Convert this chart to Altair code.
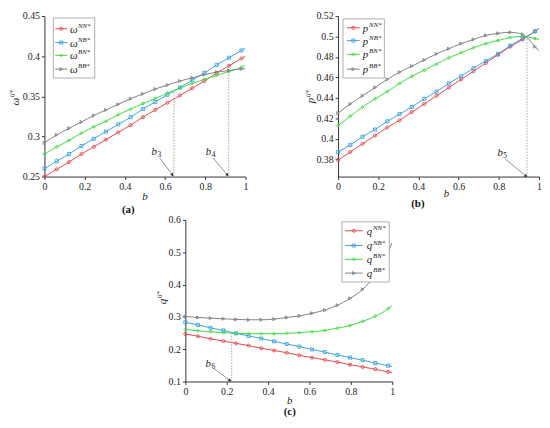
import math

import altair as alt
import pandas as pd

FONT = "Liberation Serif, Times New Roman, serif"
INK = "#333333"

SERIES = ["NN", "NB", "BN", "BB"]
SUPS = ["NN*", "NB*", "BN*", "BB*"]
COLORS = ["#e5484d", "#3ea2df", "#3ddc3d", "#808080"]
SHAPES = ["circle", "square", "diamond", "triangle-right"]

# b values of the markers; the last one (1.0) only closes the line
B = [0, 0.061, 0.122, 0.184, 0.245, 0.306, 0.367, 0.429, 0.49, 0.551,
     0.612, 0.674, 0.735, 0.796, 0.857, 0.918, 0.98, 1.0]

# (a) omega
W_NN = [0.25, 0.259, 0.268, 0.278, 0.287, 0.296, 0.305, 0.314, 0.324, 0.333,
        0.342, 0.351, 0.36, 0.369, 0.379, 0.388, 0.397, 0.40]
W_NB = [0.26, 0.269, 0.278, 0.288, 0.297, 0.306, 0.315, 0.324, 0.334, 0.343,
        0.352, 0.361, 0.370, 0.379, 0.389, 0.398, 0.407, 0.41]
W_BN = [0.278, 0.287, 0.295, 0.304, 0.312, 0.319, 0.327, 0.334, 0.341, 0.347,
        0.354, 0.36, 0.366, 0.371, 0.376, 0.381, 0.386, 0.389]
W_BB = [0.292, 0.302, 0.310, 0.318, 0.326, 0.333, 0.340, 0.347, 0.353, 0.359,
        0.364, 0.369, 0.373, 0.377, 0.380, 0.382, 0.384, 0.384]

# (b) p
P_NN = [0.379, 0.387, 0.395, 0.403, 0.411, 0.418, 0.426, 0.434, 0.442, 0.45,
        0.458, 0.466, 0.474, 0.482, 0.490, 0.497, 0.505, 0.508]
P_NB = [0.387, 0.394, 0.402, 0.409, 0.417, 0.424, 0.431, 0.439, 0.446, 0.454,
        0.461, 0.469, 0.476, 0.483, 0.491, 0.498, 0.505, 0.508]
P_BN = [0.413, 0.422, 0.431, 0.439, 0.446, 0.454, 0.461, 0.467, 0.473, 0.479,
        0.484, 0.489, 0.493, 0.496, 0.499, 0.500, 0.498, 0.497]
P_BB = [0.425, 0.434, 0.442, 0.450, 0.458, 0.465, 0.471, 0.477, 0.483, 0.488,
        0.493, 0.497, 0.501, 0.503, 0.504, 0.502, 0.490, 0.486]

# (c) q
Q_NN = [0.247, 0.24, 0.232, 0.225, 0.218, 0.211, 0.203, 0.196, 0.189, 0.181,
        0.174, 0.167, 0.16, 0.152, 0.145, 0.138, 0.13, 0.128]
Q_NB = [0.283, 0.275, 0.266, 0.258, 0.249, 0.241, 0.233, 0.224, 0.216, 0.208,
        0.199, 0.191, 0.182, 0.174, 0.166, 0.157, 0.149, 0.146]
Q_BN = [0.261, 0.257, 0.254, 0.251, 0.249, 0.248, 0.248, 0.248, 0.249, 0.251,
        0.254, 0.258, 0.265, 0.273, 0.286, 0.302, 0.325, 0.336]
Q_BB = [0.301, 0.298, 0.296, 0.294, 0.292, 0.291, 0.291, 0.293, 0.298, 0.303,
        0.311, 0.321, 0.336, 0.357, 0.385, 0.43, 0.50, 0.53]

X_TICKS = [0, 0.2, 0.4, 0.6, 0.8, 1]
Y_TICKS_A = [0.25, 0.3, 0.35, 0.4, 0.45]
Y_TICKS_B = [0.38, 0.4, 0.42, 0.44, 0.46, 0.48, 0.5, 0.52]
Y_TICKS_C = [0.1, 0.2, 0.3, 0.4, 0.5, 0.6]

# dotted threshold lines: b, from, to
GUIDES_A = [(0.644, 0.25, 0.357), (0.917, 0.25, 0.383)]
GUIDES_B = [(0.94, 0.363, 0.50)]
GUIDES_C = [(0.224, 0.10, 0.25)]

# threshold labels: index, label x, label y, arrow start x, y, arrow end x, y
NOTES_A = [("3", 0.56, 0.28, 0.574, 0.273, 0.637, 0.252),
           ("4", 0.83, 0.28, 0.84, 0.273, 0.91, 0.252)]
NOTES_B = [("5", 0.82, 0.386, 0.833, 0.38, 0.935, 0.3635)]
NOTES_C = [("6", 0.124, 0.154, 0.14, 0.139, 0.216, 0.103)]


def one(text):
    return alt.Chart(pd.DataFrame({"t": [text]}))


def axis(values):
    return alt.Axis(values=values, format="~g", title=None, labelOverlap=False,
                    labelFlush=False)


def panel(values, sym, ydom, yticks, w, h, guides, notes, lg, ytitle, xtitle, tag):
    rows = []
    for s, vals in zip(SERIES, values):
        for i, (b, v) in enumerate(zip(B, vals)):
            rows.append({"b": b, "v": v, "s": s, "m": i < len(B) - 1})
    df = pd.DataFrame(rows)

    xs = alt.Scale(domain=[0, 1], nice=False)
    ys = alt.Scale(domain=ydom, nice=False, zero=False)
    x = alt.X("b:Q", scale=xs, axis=axis(X_TICKS))
    y = alt.Y("v:Q", scale=ys, axis=axis(yticks))
    color = alt.Color("s:N", scale=alt.Scale(domain=SERIES, range=COLORS), legend=None)
    shape = alt.Shape("s:N", scale=alt.Scale(domain=SERIES, range=SHAPES), legend=None)

    base = alt.Chart(df)
    layers = [
        base.mark_line(strokeWidth=1, interpolate="monotone", clip=True).encode(
            x=x, y=y, color=color, detail="s:N"),
        base.transform_filter("datum.m").mark_point(
            filled=False, size=10, strokeWidth=0.9, opacity=1).encode(
            x=x, y=y, color=color, shape=shape),
    ]

    gd = pd.DataFrame(guides, columns=["b", "y0", "y1"])
    layers.append(alt.Chart(gd).mark_rule(
        color="#888888", strokeWidth=0.8, strokeDash=[1.5, 1.5]).encode(
        x=alt.X("b:Q", axis=axis(X_TICKS)), y=alt.Y("y0:Q", axis=axis(yticks)),
        y2="y1:Q"))

    nd = pd.DataFrame(notes, columns=["n", "lx", "ly", "x1", "y1", "x2", "y2"])
    span = ydom[1] - ydom[0]
    nd["ang"] = [
        math.degrees(math.atan2((r.x2 - r.x1) * w, (r.y2 - r.y1) / span * h))
        for r in nd.itertuples()
    ]
    nb = alt.Chart(nd)
    nx = lambda f: alt.X(f, axis=axis(X_TICKS))
    ny = lambda f: alt.Y(f, axis=axis(yticks))
    layers += [
        nb.mark_rule(color="#777777", strokeWidth=0.8).encode(
            x=nx("x1:Q"), y=ny("y1:Q"), x2="x2:Q", y2="y2:Q"),
        nb.mark_point(shape="triangle-up", filled=True, size=12, color="#222222",
                      opacity=1).encode(
            x=nx("x2:Q"), y=ny("y2:Q"), angle=alt.Angle("ang:Q", scale=None)),
        nb.mark_text(text="b", font=FONT, fontStyle="italic", fontSize=11,
                     align="right", baseline="middle", color="#222222").encode(
            x=nx("lx:Q"), y=ny("ly:Q")),
        nb.mark_text(font=FONT, fontSize=7.5, align="left", baseline="middle",
                     dx=0.5, dy=3, color="#222222").encode(
            x=nx("lx:Q"), y=ny("ly:Q"), text="n:N"),
    ]

    # legend box drawn by hand so the superscripts can be set
    x0, y0, x1, y1 = lg["box"]
    layers.append(one("").mark_rect(fill="white", stroke="#999999", strokeWidth=0.8).encode(
        x=alt.value(x0), x2=alt.value(x1), y=alt.value(y0), y2=alt.value(y1)))
    la, lb = lg["line"]
    for i in range(len(SERIES)):
        yy = lg["rows"][i]
        e = one(SUPS[i])
        layers += [
            e.mark_rule(color=COLORS[i], strokeWidth=1).encode(
                x=alt.value(la), x2=alt.value(lb), y=alt.value(yy)),
            e.mark_point(shape=SHAPES[i], color=COLORS[i], filled=False, size=10,
                         strokeWidth=0.9, opacity=1).encode(
                x=alt.value((la + lb) / 2), y=alt.value(yy)),
            e.mark_text(text=sym, font=FONT, fontStyle="italic", fontSize=11,
                        align="left", baseline="middle", color="#222222").encode(
                x=alt.value(lg["text"]), y=alt.value(yy + 1)),
            e.mark_text(font=FONT, fontStyle="italic", fontSize=7, align="left",
                        baseline="middle", color="#222222").encode(
                x=alt.value(lg["text"] + lg["sup"]), y=alt.value(yy - 3), text="t:N"),
        ]

    # rotated y title with superscript, x title and panel tag
    tx, ty = ytitle
    layers += [
        one(sym).mark_text(font=FONT, fontStyle="italic", fontSize=11, angle=270,
                           align="right", baseline="middle", color="#222222").encode(
            x=alt.value(tx), y=alt.value(ty), text="t:N"),
        one("ij*").mark_text(font=FONT, fontStyle="italic", fontSize=7, angle=270,
                             align="left", baseline="middle", color="#222222").encode(
            x=alt.value(tx - 3.5), y=alt.value(ty - 0.5), text="t:N"),
        one("b").mark_text(font=FONT, fontStyle="italic", fontSize=11,
                           align="center", baseline="middle", color="#222222").encode(
            x=alt.value(xtitle[0]), y=alt.value(xtitle[1]), text="t:N"),
        one(tag[0]).mark_text(font=FONT, fontWeight="bold", fontSize=11,
                              align="center", baseline="middle", color="#111111").encode(
            x=alt.value(tag[1]), y=alt.value(tag[2]), text="t:N"),
    ]
    return alt.layer(*layers).properties(width=w, height=h)


a = panel([W_NN, W_NB, W_BN, W_BB], "ω", [0.25, 0.45], Y_TICKS_A, 204, 163,
          GUIDES_A, NOTES_A,
          {"box": (9, 2, 51, 63), "rows": [13, 27, 40, 54], "line": (11, 23),
           "text": 26, "sup": 8},
          (-29, 83), (102, 184), ("(a)", 85, 197))
b = panel([P_NN, P_NB, P_BN, P_BB], "p", [0.363, 0.52], Y_TICKS_B, 204, 163,
          GUIDES_B, NOTES_B,
          {"box": (5, 3, 47, 63), "rows": [12, 25, 39, 54], "line": (9, 22),
           "text": 25, "sup": 6.5},
          (-27, 83), (110, 181), ("(b)", 81, 191))
c = panel([Q_NN, Q_NB, Q_BN, Q_BB], "q", [0.1, 0.6], Y_TICKS_C, 210, 164,
          GUIDES_C, NOTES_C,
          {"box": (159, 2, 207, 63), "rows": [11, 26, 40, 54], "line": (162, 180),
           "text": 184, "sup": 6.5},
          (-23, 80), (106, 184), ("(c)", 106, 195))

# empty block that moves panel (c) to the middle of the lower row
spacer = one("").mark_point(opacity=0, size=1).encode(
    x=alt.value(0), y=alt.value(0)).properties(width=112, height=10)

top = alt.hconcat(a, b, spacing=56)
bottom = alt.hconcat(spacer, c, spacing=0)
chart = alt.vconcat(top, bottom, spacing=0).properties(
    padding={"left": 0, "top": 0, "right": 0, "bottom": 0}
).configure_view(stroke=None).configure_axis(
    grid=False,
    labelFont=FONT,
    labelFontSize=10,
    labelColor="#222222",
    labelPadding=2,
    domainColor=INK,
    tickColor=INK,
    tickSize=3,
    domainWidth=1,
    tickWidth=1,
)

chart.save("out.html", embed_options={"renderer": "svg", "actions": False})
